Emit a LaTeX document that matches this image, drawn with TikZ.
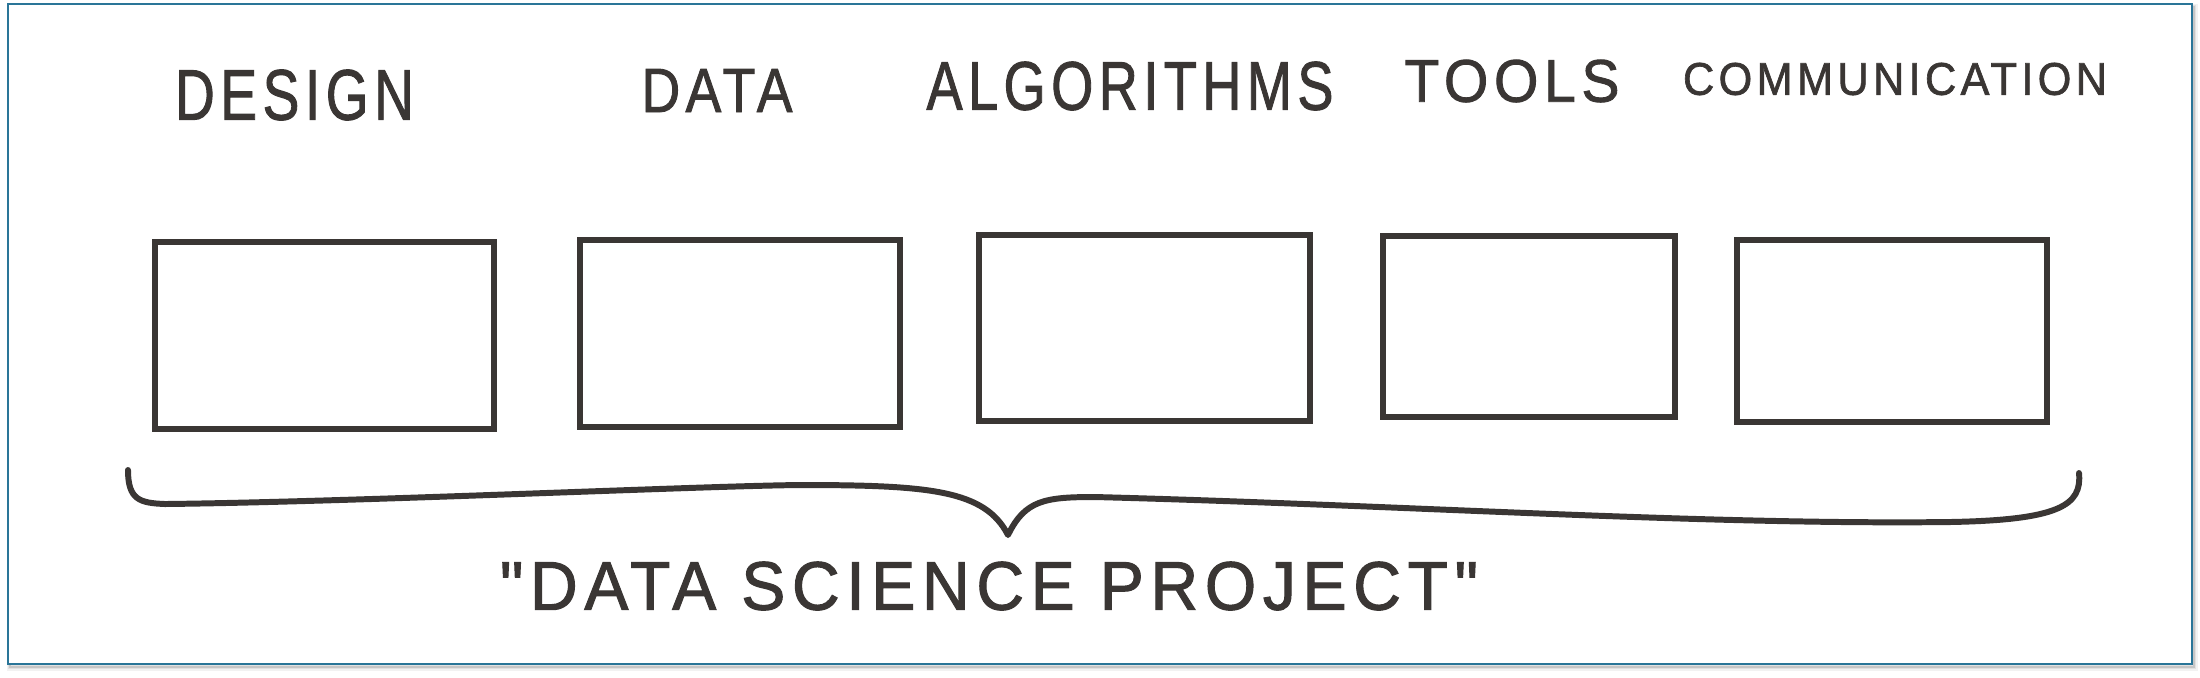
\documentclass[tikz,border=0pt]{standalone}
\usepackage{fontspec}
\usepackage{graphicx}
\newfontfamily\handfont[LetterSpace=10,FakeBold=1.5]{Liberation Sans}
\definecolor{ink}{HTML}{3A3634}
\definecolor{frameblue}{HTML}{2A7598}
\tikzset{
  box/.style={rectangle, draw=ink, line width=1.9pt, inner sep=0pt},
  lbl/.style={text=ink, inner sep=0pt},
  brace/.style={draw=ink, line width=1.7pt, line cap=round, line join=round},
  frame/.style={draw=frameblue, line width=0.6pt, fill=white}
}
\newcommand{\hand}[3]{\resizebox{#1cm}{#2cm}{\handfont #3}}

\begin{document}
\begin{tikzpicture}
\useasboundingbox (0,0) rectangle (22,-6.77);
% shadow and frame
\foreach \w/\o in {0.07/0.05,0.045/0.07,0.02/0.12}
  \draw[black, opacity=\o, line width=\w cm] (0.10,-0.07) rectangle (21.94,-6.67);
\draw[frame] (0.08,-0.04) rectangle (21.92,-6.64);

% labels
\node[lbl] (design) at (2.945,-0.95) {\hand{2.39}{0.50}{DESIGN}};
\node[lbl] (data) at (7.17,-0.905) {\hand{1.51}{0.43}{DATA}};
\node[lbl] (algorithms) at (11.30,-0.86) {\hand{4.07}{0.48}{ALGORITHMS}};
\node[lbl] (tools) at (15.12,-0.81) {\hand{2.15}{0.42}{TOOLS}};
\node[lbl] (communication) at (18.95,-0.79) {\hand{4.24}{0.32}{COMMUNICATION}};

% boxes
\node[box, minimum width=3.39cm, minimum height=1.87cm] (bdesign) at (3.245,-3.355) {};
\node[box, minimum width=3.20cm, minimum height=1.87cm] (bdata) at (7.40,-3.335) {};
\node[box, minimum width=3.31cm, minimum height=1.86cm] (balgorithms) at (11.445,-3.28) {};
\node[box, minimum width=2.92cm, minimum height=1.81cm] (btools) at (15.29,-3.265) {};
\node[box, minimum width=3.10cm, minimum height=1.82cm] (bcommunication) at (18.92,-3.31) {};

% brace
\draw[brace] (1.28,-4.70) .. controls (1.28,-5.00) and (1.40,-5.03) .. (1.65,-5.04)
  .. controls (3.5,-5.02) and (7.0,-4.86) .. (8.0,-4.85)
  .. controls (9.3,-4.85) and (9.85,-4.90) .. (10.08,-5.35)
  .. controls (10.25,-5.00) and (10.45,-4.97) .. (10.95,-4.97)
  .. controls (14.0,-5.05) and (17.0,-5.25) .. (19.5,-5.22)
  .. controls (20.6,-5.20) and (20.82,-5.05) .. (20.79,-4.73);

\node[lbl] (project) at (9.89,-5.86) {\hand{9.78}{0.48}{"DATA SCIENCE PROJECT"}};
\end{tikzpicture}
\end{document}
